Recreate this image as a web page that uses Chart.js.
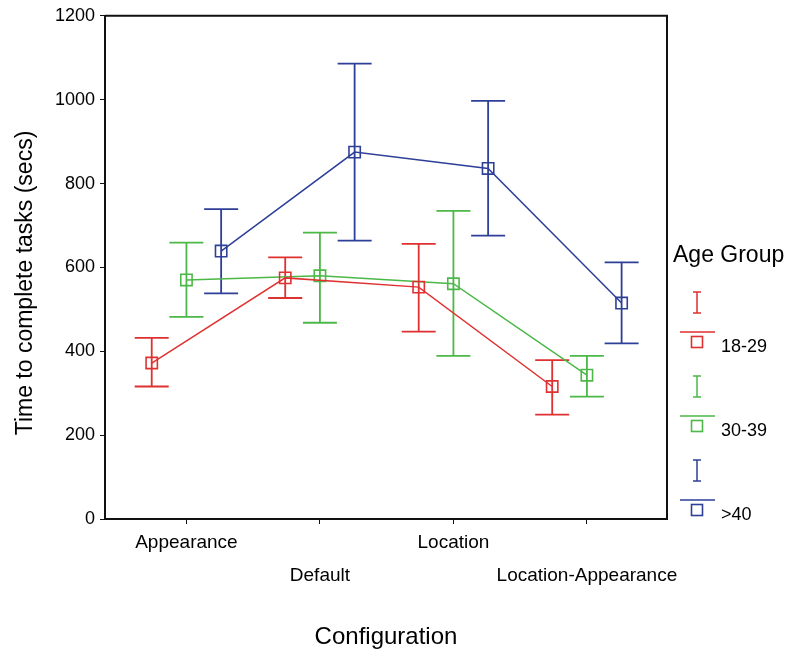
<!DOCTYPE html>
<html>
<head>
<meta charset="utf-8">
<title>Time to complete tasks by configuration</title>
<script src="https://cdn.jsdelivr.net/npm/chart.js@4/dist/chart.umd.min.js"></script>
<style>
  body { margin: 0; background: #fff; }
  #wrap { width: 796px; height: 650px; position: relative; }
</style>
</head>
<body>
<div id="wrap"><canvas id="tiempoChart"></canvas></div>
<script>
// Datos
const categories = ['Appearance', 'Default', 'Location', 'Location-Appearance'];
const groups = ['18-29', '30-39', '>40'];
const yTicks = [0, 200, 400, 600, 800, 1000, 1200];

const mean18 = [372, 575, 553, 316];
const low18  = [316, 527, 447, 249];
const high18 = [432, 624, 656, 379];

const mean30 = [570, 580, 561, 343];
const low30  = [482, 468, 389, 292];
const high30 = [659, 683, 735, 389];

const mean40 = [639, 875, 836, 515];
const low40  = [538, 664, 676, 419];
const high40 = [739, 1086, 997, 612];

const colors = ['#e03131', '#4cb847', '#2e3f98'];
const offsets = [-0.26, 0, 0.26]; // desplazamiento de cada grupo sobre la categoría

const series = [
    { mean: mean18, low: low18, high: high18 },
    { mean: mean30, low: low30, high: high30 },
    { mean: mean40, low: low40, high: high40 }
];

Chart.defaults.font.family = "'Liberation Sans', Arial, sans-serif";
Chart.defaults.color = '#000';

// Barras de error (intervalos) usando las escalas del gráfico
const errorBars = {
    id: 'errorBars',
    beforeDatasetsDraw(chart) {
        const { ctx, scales: { x, y } } = chart;
        series.forEach((s, k) => {
            ctx.save();
            ctx.strokeStyle = colors[k];
            ctx.lineWidth = 1.8;
            categories.forEach((c, i) => {
                const px = x.getPixelForValue(i + offsets[k]);
                const top = y.getPixelForValue(s.high[i]);
                const bot = y.getPixelForValue(s.low[i]);
                ctx.beginPath();
                ctx.moveTo(px, top); ctx.lineTo(px, bot);
                ctx.moveTo(px - 17, top); ctx.lineTo(px + 17, top);
                ctx.moveTo(px - 17, bot); ctx.lineTo(px + 17, bot);
                ctx.stroke();
            });
            ctx.restore();
        });
    }
};

// Marco, título del eje Y y leyenda
const extras = {
    id: 'extras',
    afterDraw(chart) {
        const { ctx, chartArea: a } = chart;
        ctx.save();
        ctx.strokeStyle = '#111';
        ctx.lineWidth = 2;
        ctx.beginPath();
        ctx.moveTo(a.left, a.top);
        ctx.lineTo(a.right, a.top);
        ctx.lineTo(a.right, a.bottom);
        ctx.stroke();

        // título del eje Y
        ctx.fillStyle = '#000';
        ctx.font = "23px 'Liberation Sans', Arial, sans-serif";
        ctx.textAlign = 'center';
        ctx.textBaseline = 'middle';
        ctx.translate(26, 283);
        ctx.rotate(-Math.PI / 2);
        ctx.fillText('Time to complete tasks (secs)', 0, 0);
        ctx.restore();

        // leyenda
        ctx.save();
        ctx.fillStyle = '#000';
        ctx.font = "23px 'Liberation Sans', Arial, sans-serif";
        ctx.textBaseline = 'alphabetic';
        ctx.fillText('Age Group', 673, 262);
        groups.forEach((g, k) => {
            const y0 = 292 + 84 * k;
            ctx.strokeStyle = colors[k];
            ctx.lineWidth = 1.5;
            ctx.beginPath();
            ctx.moveTo(697, y0); ctx.lineTo(697, y0 + 21);
            ctx.moveTo(693, y0); ctx.lineTo(701, y0);
            ctx.moveTo(693, y0 + 21); ctx.lineTo(701, y0 + 21);
            ctx.moveTo(680, y0 + 40); ctx.lineTo(715, y0 + 40);
            ctx.stroke();
            ctx.lineWidth = 1.6;
            ctx.strokeRect(691.5, y0 + 44.5, 11, 11);
            ctx.fillStyle = '#000';
            ctx.font = "18px 'Liberation Sans', Arial, sans-serif";
            ctx.fillText(g, 721, y0 + 60);
        });
        ctx.restore();
    }
};

const ctx = document.getElementById('tiempoChart').getContext('2d');
const tiempoChart = new Chart(ctx, {
    type: 'line',
    data: {
        datasets: series.map((s, k) => ({
            label: groups[k],
            data: s.mean.map((v, i) => ({ x: i + offsets[k], y: v })),
            borderColor: colors[k],
            backgroundColor: 'transparent',
            borderWidth: 1.5,
            pointStyle: 'rect',
            pointRadius: 8,
            pointBorderWidth: 1.6,
            pointBorderColor: colors[k],
            pointBackgroundColor: 'transparent',
            tension: 0,
            fill: false
        }))
    },
    options: {
        responsive: true,
        maintainAspectRatio: false,
        animation: false,
        layout: { padding: { top: 13, right: 129, left: 0, bottom: 0 } },
        scales: {
            x: {
                type: 'linear',
                min: -0.61,
                max: 3.6,
                afterBuildTicks: (scale) => {
                    scale.ticks = categories.map((c, i) => ({ value: i }));
                },
                afterFit: (scale) => { scale.height = 131; },
                ticks: {
                    autoSkip: false,
                    maxRotation: 0,
                    minRotation: 0,
                    padding: 2,
                    color: '#000',
                    font: { size: 19, lineHeight: 33 / 19 },
                    callback: (value) => {
                        const i = Math.round(value);
                        return i % 2 ? ['', categories[i]] : [categories[i], ''];
                    }
                },
                grid: { drawOnChartArea: false, tickLength: 5, color: '#111' },
                border: { color: '#111', width: 2 },
                title: {
                    display: true,
                    text: 'Configuration',
                    color: '#000',
                    font: { size: 24, lineHeight: 1 },
                    padding: { top: 0, bottom: 1 }
                }
            },
            y: {
                min: 0,
                max: 1200,
                afterBuildTicks: (scale) => {
                    scale.ticks = yTicks.map(v => ({ value: v }));
                },
                afterFit: (scale) => { scale.width = 105; },
                ticks: {
                    padding: 5,
                    color: '#000',
                    font: { size: 18 },
                    callback: (value) => String(value)
                },
                grid: { drawOnChartArea: false, tickLength: 5, color: '#111' },
                border: { color: '#111', width: 2 },
                title: { display: false }
            }
        },
        plugins: {
            legend: { display: false },
            tooltip: { enabled: false }
        }
    },
    plugins: [errorBars, extras]
});
</script>
</body>
</html>
